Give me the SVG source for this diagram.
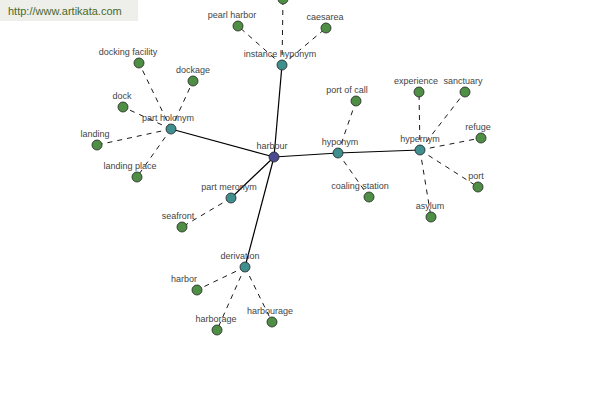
<svg xmlns="http://www.w3.org/2000/svg" width="600" height="400" viewBox="0 0 600 400">
<style>
text{font-family:"Liberation Sans",Arial,sans-serif;font-size:9px;fill:#444;text-anchor:middle}
.n circle{stroke:#222;stroke-width:0.8}
.leaf circle{fill:#4f8f45}
.rel circle{fill:#3f8f8f}
.s{stroke:#000;stroke-width:1.2;fill:none}
.d{stroke:#000;stroke-width:0.9;stroke-dasharray:5,5;fill:none}
</style>
<rect x="0" y="0" width="138" height="21" fill="#eeeeea"/>
<text x="8" y="15" style="text-anchor:start;font-size:11px;fill:#4a6a2a">http://www.artikata.com</text>
<g id="connectors">
<line class="s" x1="274" y1="157" x2="282" y2="65"/>
<line class="s" x1="274" y1="157" x2="171" y2="129"/>
<line class="s" x1="274" y1="157" x2="338" y2="153"/>
<line class="s" x1="338" y1="153" x2="420" y2="150"/>
<line class="s" x1="274" y1="157" x2="231" y2="198"/>
<line class="s" x1="274" y1="157" x2="245" y2="267"/>
<line class="d" x1="282" y1="65" x2="283" y2="-1"/>
<line class="d" x1="282" y1="65" x2="238" y2="26"/>
<line class="d" x1="282" y1="65" x2="326" y2="28"/>
<line class="d" x1="171" y1="129" x2="139" y2="63"/>
<line class="d" x1="171" y1="129" x2="193" y2="81"/>
<line class="d" x1="171" y1="129" x2="123" y2="107"/>
<line class="d" x1="171" y1="129" x2="97" y2="145"/>
<line class="d" x1="171" y1="129" x2="137" y2="177"/>
<line class="d" x1="338" y1="153" x2="356" y2="101"/>
<line class="d" x1="338" y1="153" x2="369" y2="197"/>
<line class="d" x1="420" y1="150" x2="419" y2="92"/>
<line class="d" x1="420" y1="150" x2="465" y2="92"/>
<line class="d" x1="420" y1="150" x2="481" y2="138"/>
<line class="d" x1="420" y1="150" x2="478" y2="187"/>
<line class="d" x1="420" y1="150" x2="431" y2="217"/>
<line class="d" x1="231" y1="198" x2="182" y2="227"/>
<line class="d" x1="245" y1="267" x2="197" y2="290"/>
<line class="d" x1="245" y1="267" x2="217" y2="330"/>
<line class="d" x1="245" y1="267" x2="272" y2="322"/>
</g>
<g id="harbour" class="n"><circle cx="274" cy="157" r="5" fill="#4a4a90"/><text x="272" y="149">harbour</text></g>
<g id="instance-hyponym" class="n rel"><circle cx="282" cy="65" r="5"/><text x="280" y="57">instance hyponym</text></g>
<g id="part-holonym" class="n rel"><circle cx="171" cy="129" r="5"/><text x="168" y="121">part holonym</text></g>
<g id="hyponym" class="n rel"><circle cx="338" cy="153" r="5"/><text x="340" y="145">hyponym</text></g>
<g id="hypernym" class="n rel"><circle cx="420" cy="150" r="5"/><text x="420" y="142">hypernym</text></g>
<g id="part-meronym" class="n rel"><circle cx="231" cy="198" r="5"/><text x="229" y="190">part meronym</text></g>
<g id="derivation" class="n rel"><circle cx="245" cy="267" r="5"/><text x="240" y="259">derivation</text></g>
<g id="top" class="n leaf"><circle cx="283" cy="-1" r="5"/></g>
<g id="pearl-harbor" class="n leaf"><circle cx="238" cy="26" r="5"/><text x="232" y="18">pearl harbor</text></g>
<g id="caesarea" class="n leaf"><circle cx="326" cy="28" r="5"/><text x="325" y="20">caesarea</text></g>
<g id="docking-facility" class="n leaf"><circle cx="139" cy="63" r="5"/><text x="128" y="55">docking facility</text></g>
<g id="dockage" class="n leaf"><circle cx="193" cy="81" r="5"/><text x="193" y="73">dockage</text></g>
<g id="dock" class="n leaf"><circle cx="123" cy="107" r="5"/><text x="122" y="99">dock</text></g>
<g id="landing" class="n leaf"><circle cx="97" cy="145" r="5"/><text x="95" y="137">landing</text></g>
<g id="landing-place" class="n leaf"><circle cx="137" cy="177" r="5"/><text x="130" y="169">landing place</text></g>
<g id="port-of-call" class="n leaf"><circle cx="356" cy="101" r="5"/><text x="347" y="93">port of call</text></g>
<g id="coaling-station" class="n leaf"><circle cx="369" cy="197" r="5"/><text x="360" y="189">coaling station</text></g>
<g id="experience" class="n leaf"><circle cx="419" cy="92" r="5"/><text x="416" y="84">experience</text></g>
<g id="sanctuary" class="n leaf"><circle cx="465" cy="92" r="5"/><text x="463" y="84">sanctuary</text></g>
<g id="refuge" class="n leaf"><circle cx="481" cy="138" r="5"/><text x="478" y="130">refuge</text></g>
<g id="port" class="n leaf"><circle cx="478" cy="187" r="5"/><text x="476" y="179">port</text></g>
<g id="asylum" class="n leaf"><circle cx="431" cy="217" r="5"/><text x="430" y="209">asylum</text></g>
<g id="seafront" class="n leaf"><circle cx="182" cy="227" r="5"/><text x="178" y="219">seafront</text></g>
<g id="harbor" class="n leaf"><circle cx="197" cy="290" r="5"/><text x="184" y="282">harbor</text></g>
<g id="harborage" class="n leaf"><circle cx="217" cy="330" r="5"/><text x="216" y="322">harborage</text></g>
<g id="harbourage" class="n leaf"><circle cx="272" cy="322" r="5"/><text x="270" y="314">harbourage</text></g>
</svg>
